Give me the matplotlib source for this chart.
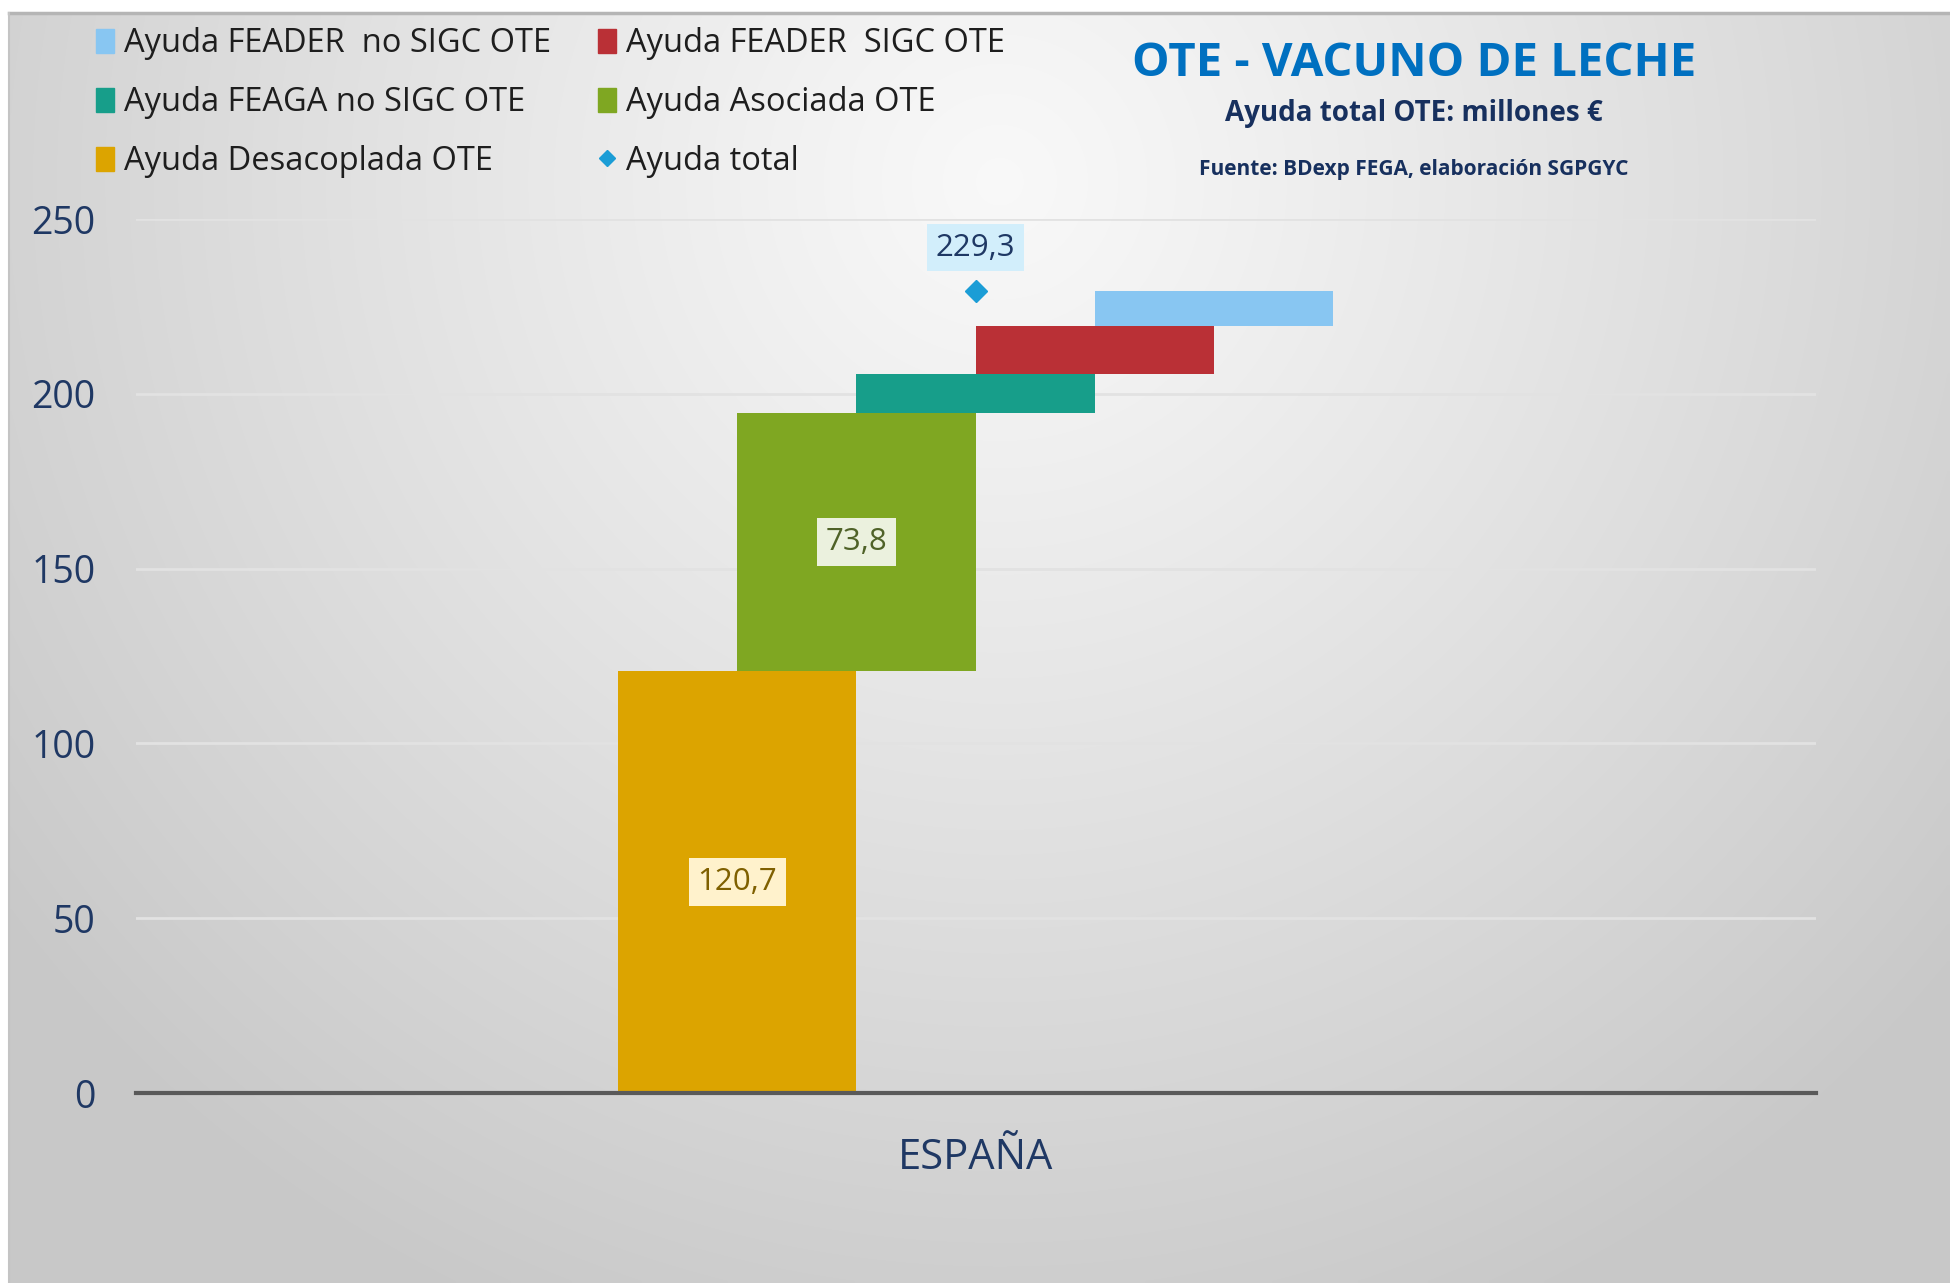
import numpy as np
import matplotlib
matplotlib.use("Agg")
import matplotlib.pyplot as plt
from matplotlib.patches import Patch
from matplotlib.lines import Line2D

plt.rcParams['font.family'] = ['Open Sans', 'DejaVu Sans']

# ---- data ----
categories = ['ESPAÑA']
series_names = ['Ayuda Desacoplada OTE', 'Ayuda Asociada OTE', 'Ayuda FEAGA no SIGC OTE',
                'Ayuda FEADER  SIGC OTE', 'Ayuda FEADER  no SIGC OTE']
series_values = [120.7, 73.8, 11.1, 13.8, 9.9]
total_name = 'Ayuda total'
total_value = [229.3]
yticks = [0, 50, 100, 150, 200, 250]

colors = ['#DCA400', '#7FA722', '#179E8A', '#BA3036', '#88C6F2']
label_style = {
    0: dict(fc='#FFF2CC', tc='#7F6000'),
    1: dict(fc='#EBF1DE', tc='#4F6228'),
}

W, H = 1950, 1283
fig = plt.figure(figsize=(W / 100, H / 100), dpi=100)
fig.patch.set_facecolor('white')

# background panel with radial gradient
px0, py0 = 9, 13
bg = fig.add_axes([px0 / W, 0, 1 - px0 / W, 1 - py0 / H], zorder=-10)
gx = np.linspace(px0, W, 400)
gy = np.linspace(py0, H, 270)
X, Y = np.meshgrid(gx, gy)
cx, cy, rx, ry = 1000, 180, 1250, 1250
d = np.sqrt(((X - cx) / rx) ** 2 + ((Y - cy) / ry) ** 2)
val = 0.975 - 0.19 * np.clip(d, 0, 1) ** 1.1
img = np.dstack([val, val, val])
bg.imshow(img, aspect='auto', interpolation='bilinear', extent=[0, 1, 0, 1])
bg.set_axis_off()
fig.add_artist(Line2D([px0 / W, 1], [1 - py0 / H] * 2, color='#b5b5b5', lw=2.5))
fig.add_artist(Line2D([px0 / W] * 2, [0, 1 - py0 / H], color='#c4c4c4', lw=1.5))

# main axes
ax = fig.add_axes([135.5 / W, 190 / H, 1680 / W, 874 / H])
ax.patch.set_alpha(0)
ax.set_xlim(-0.5, 0.5)
ax.set_ylim(0, 250)

bw = 0.1417
x0 = np.arange(len(categories))
bottom = 0.0
for i, (name, v, c) in enumerate(zip(series_names, series_values, colors)):
    off = (i - 2) * bw / 2
    ax.bar(x0 + off, [v], width=bw, bottom=bottom, color=c, zorder=3, label=name)
    if i in label_style:
        st = label_style[i]
        ax.text(x0[0] + off, bottom + v / 2, f'{v:.1f}'.replace('.', ','),
                ha='center', va='center', fontsize=22.5, color=st['tc'], zorder=5,
                bbox=dict(boxstyle='square,pad=0.28', fc=st['fc'], ec='none'))
    bottom += v

ax.plot(x0, total_value, linestyle='none', marker='D', ms=11, color='#1B9DD6', zorder=6)
ax.annotate(f'{total_value[0]:.1f}'.replace('.', ','), (x0[0], total_value[0]),
            xytext=(0, 31.5), textcoords='offset points', ha='center', va='center',
            fontsize=22.5, color='#1F3864', zorder=6,
            bbox=dict(boxstyle='square,pad=0.28', fc='#D2EEFB', ec='none'))

ax.set_yticks(yticks)
ax.set_yticklabels([str(t) for t in yticks])
ax.set_xticks(x0)
ax.set_xticklabels(categories)
ax.tick_params(axis='y', length=0, pad=29, labelsize=27, labelcolor='#1F3864')
ax.tick_params(axis='x', length=0, pad=31.5, labelsize=30, labelcolor='#1F3864')
ax.yaxis.grid(True, color='#e2e2e2', lw=2, zorder=0)
ax.set_axisbelow(True)
for s in ['top', 'right', 'left']:
    ax.spines[s].set_visible(False)
ax.spines['bottom'].set_color('#595959')
ax.spines['bottom'].set_linewidth(3)
ax.spines['bottom'].set_zorder(4)

# legend
handles = [Patch(color=colors[4]), Patch(color=colors[2]), Patch(color=colors[0]),
           Patch(color=colors[3]), Patch(color=colors[1]),
           Line2D([], [], linestyle='none', marker='D', ms=8, color='#1B9DD6')]
labels = [series_names[4], series_names[2], series_names[0],
          series_names[3], series_names[1], total_name]
fig.legend(handles, labels, ncol=2, loc='upper left',
           bbox_to_anchor=(96 / W, 1 - 27.5 / H), frameon=False, fontsize=23.5,
           handlelength=0.55, handleheight=0.75, handletextpad=0.3,
           columnspacing=1.45, labelspacing=0.79, borderaxespad=0, borderpad=0,
           labelcolor='#1e1e1e')

# titles
fig.text(1414 / W, 1 - 64 / H, 'OTE - VACUNO DE LECHE', ha='center', va='center',
         fontsize=34, fontweight='bold', color='#0070C0')
fig.text(1414 / W, 1 - 114 / H, 'Ayuda total OTE: millones €', ha='center', va='center',
         fontsize=20, fontweight='bold', color='#17305E')
fig.text(1414 / W, 1 - 170 / H, 'Fuente: BDexp FEGA, elaboración SGPGYC', ha='center',
         va='center', fontsize=15, fontweight='bold', color='#17305E')

fig.savefig('out.png', dpi=100)
